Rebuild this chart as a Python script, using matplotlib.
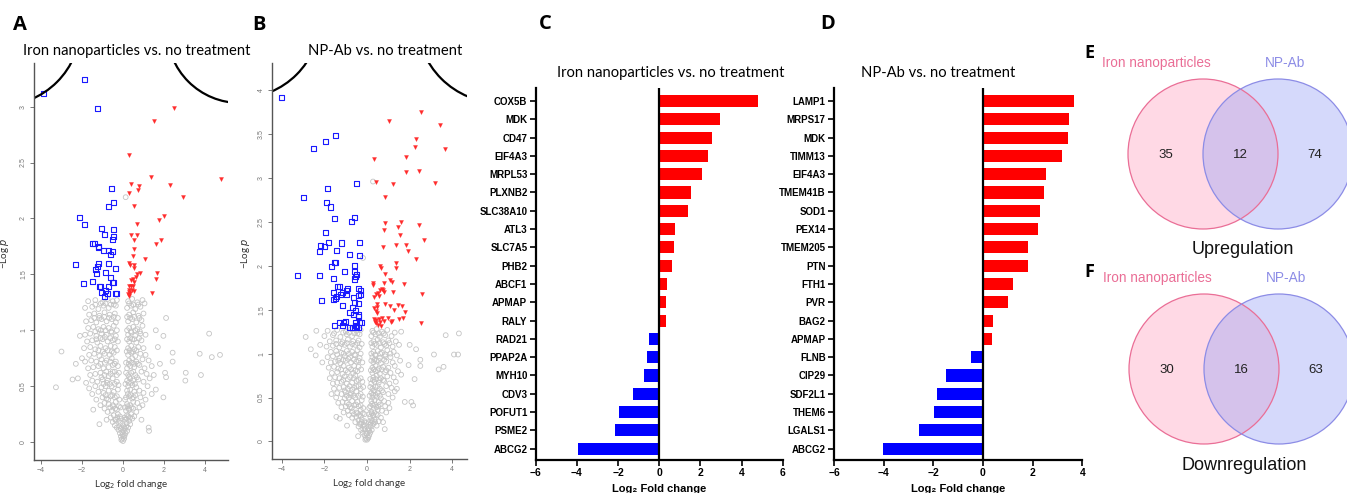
import numpy as np
import matplotlib
matplotlib.use('Agg')
import matplotlib.pyplot as plt
from matplotlib.patches import Arc, Circle
from matplotlib.transforms import IdentityTransform

W, H = 1347, 493
SANS = ['Liberation Sans', 'DejaVu Sans']
CALI = ['Lato', 'DejaVu Sans']
plt.rcParams['font.family'] = SANS

# ---------------- volcano A: iron nanoparticles vs no treatment
blue_a = [(-3.89, 3.12), (-1.89, 3.24), (-1.25, 2.98), (-0.57, 2.27), (-0.47, 2.14), (-0.73, 2.11),
          (-2.12, 2.01), (-1.89, 1.95), (-1.04, 1.91), (-0.47, 1.90), (-0.88, 1.86), (-0.44, 1.84),
          (-0.50, 1.81), (-1.47, 1.78), (-1.37, 1.78), (-1.19, 1.75), (-1.19, 1.74), (-0.93, 1.71),
          (-0.70, 1.71), (-0.50, 1.70), (-0.60, 1.68), (-2.30, 1.59), (-1.19, 1.60), (-0.70, 1.60),
          (-1.24, 1.57), (-1.34, 1.54), (-0.39, 1.55), (-1.30, 1.51), (-0.86, 1.52), (-0.60, 1.47),
          (-1.51, 1.44), (-1.95, 1.42), (-0.50, 1.43), (-0.47, 1.43), (-1.12, 1.39), (-1.16, 1.39),
          (-0.73, 1.39), (-0.86, 1.36), (-1.03, 1.34), (-0.76, 1.33), (-0.39, 1.33), (-0.34, 1.33),
          (-0.90, 1.30)]
red_a = [(2.51, 2.99), (1.51, 2.87), (0.28, 2.57), (1.37, 2.37), (4.76, 2.35), (0.37, 2.31),
         (0.77, 2.29), (2.30, 2.30), (0.28, 2.23), (0.72, 2.25), (2.92, 2.19), (0.55, 2.11),
         (2.02, 2.02), (1.74, 1.99), (0.68, 1.95), (0.39, 1.85), (0.68, 1.85), (1.86, 1.81),
         (0.55, 1.81), (1.61, 1.77), (0.55, 1.73), (0.47, 1.66), (1.09, 1.64), (0.28, 1.60),
         (0.34, 1.58), (0.54, 1.58), (0.54, 1.56), (1.66, 1.51), (0.85, 1.51), (0.67, 1.50),
         (0.64, 1.48), (1.61, 1.46), (0.47, 1.46), (0.39, 1.45), (0.52, 1.43), (0.29, 1.40),
         (0.39, 1.40), (0.49, 1.40), (0.28, 1.36), (0.42, 1.36), (0.55, 1.35), (0.31, 1.34),
         (1.40, 1.33), (0.23, 1.32), (0.28, 1.31), (0.34, 1.33)]
gray_a = [(0.0, 0.01), (-0.05, 0.03), (0.05, 0.03), (-0.1, 0.05), (0.08, 0.06), (-0.15, 0.08), (0.12, 0.08),
          (-0.02, 0.07), (0.2, 0.1), (-0.22, 0.11), (0.03, 0.1), (-0.3, 0.13), (0.25, 0.13), (-0.1, 0.12),
          (0.15, 0.14), (-0.4, 0.15), (0.35, 0.16), (0.0, 0.15),
          (-0.5, 0.18), (-0.35, 0.2), (-0.2, 0.19), (0.1, 0.2), (0.3, 0.19), (0.45, 0.21), (-0.6, 0.22),
          (-0.45, 0.24), (-0.25, 0.25), (0.2, 0.24), (0.4, 0.25), (0.55, 0.23), (-0.75, 0.27), (-0.55, 0.28),
          (-0.3, 0.29), (0.15, 0.28), (0.3, 0.29), (0.5, 0.3), (0.65, 0.27), (-0.9, 0.3), (0.8, 0.31),
          (-1.15, 0.16), (-1.45, 0.29), (1.25, 0.13), (1.27, 0.1), (0.9, 0.2), (-0.8, 0.2),
          (-1.1, 0.33), (-0.9, 0.35), (-0.7, 0.34), (-0.5, 0.33), (-0.35, 0.36), (0.2, 0.34), (0.35, 0.33),
          (0.5, 0.36), (0.7, 0.35), (0.95, 0.33), (-1.3, 0.38), (-1.0, 0.4), (-0.8, 0.39), (-0.6, 0.41),
          (-0.4, 0.4), (0.15, 0.4), (0.3, 0.41), (0.45, 0.39), (0.6, 0.42), (0.85, 0.4), (1.1, 0.38),
          (-1.5, 0.43), (-1.2, 0.45), (-0.95, 0.44), (-0.7, 0.46), (-0.45, 0.45), (-0.25, 0.47), (0.2, 0.46),
          (0.35, 0.47), (0.55, 0.45), (0.8, 0.46), (1.0, 0.44), (1.4, 0.43), (-1.65, 0.48), (-1.35, 0.5),
          (-1.05, 0.49), (-0.85, 0.5), (-0.55, 0.5), (0.25, 0.5), (0.45, 0.51), (0.65, 0.49), (1.2, 0.5),
          (1.6, 0.47), (1.97, 0.4),
          (-1.8, 0.53), (-1.5, 0.55), (-1.25, 0.54), (-1.0, 0.56), (-0.75, 0.55), (-0.5, 0.57), (-0.3, 0.54),
          (0.2, 0.55), (0.35, 0.57), (0.5, 0.55), (0.75, 0.56), (1.0, 0.54), (1.3, 0.57), (-1.6, 0.6),
          (-1.35, 0.61), (-1.1, 0.62), (-0.9, 0.6), (-0.6, 0.61), (-0.4, 0.63), (0.25, 0.6), (0.4, 0.62),
          (0.6, 0.6), (0.9, 0.63), (1.15, 0.61), (1.5, 0.6), (-1.7, 0.66), (-1.45, 0.67), (-1.2, 0.68),
          (-0.95, 0.66), (-0.7, 0.67), (-0.5, 0.69), (0.2, 0.66), (0.35, 0.68), (0.55, 0.67), (0.8, 0.69),
          (1.05, 0.66), (1.4, 0.68), (-1.85, 0.72), (-1.55, 0.73), (-1.3, 0.72), (-1.05, 0.74), (-0.8, 0.73),
          (-0.55, 0.75), (-0.35, 0.72), (0.3, 0.73), (0.45, 0.75), (0.65, 0.72), (0.95, 0.74), (1.25, 0.73),
          (-1.65, 0.78), (-1.4, 0.79), (-1.15, 0.77), (-0.9, 0.79), (-0.65, 0.78), (-0.45, 0.8), (0.25, 0.78),
          (0.4, 0.8), (0.6, 0.77), (0.85, 0.79), (1.1, 0.78),
          (-1.9, 0.84), (-1.6, 0.85), (-1.35, 0.83), (-1.1, 0.86), (-0.85, 0.84), (-0.6, 0.86), (-0.4, 0.85),
          (0.25, 0.84), (0.4, 0.86), (0.55, 0.83), (0.75, 0.85), (1.0, 0.84), (-1.75, 0.9), (-1.5, 0.91),
          (-1.25, 0.89), (-1.0, 0.92), (-0.75, 0.9), (-0.5, 0.91), (0.3, 0.9), (0.45, 0.92), (0.65, 0.89),
          (0.9, 0.91), (-1.85, 0.96), (-1.6, 0.97), (-1.3, 0.95), (-1.05, 0.97), (-0.8, 0.96), (-0.55, 0.98),
          (-0.35, 0.95), (0.25, 0.96), (0.4, 0.98), (0.6, 0.95), (0.85, 0.97), (1.1, 0.96), (-1.7, 1.02),
          (-1.45, 1.03), (-1.2, 1.01), (-0.95, 1.03), (-0.7, 1.02), (-0.45, 1.04), (0.3, 1.02), (0.5, 1.03),
          (0.7, 1.01), (0.95, 1.04),
          (-1.8, 1.08), (-1.55, 1.09), (-1.3, 1.07), (-1.05, 1.1), (-0.8, 1.08), (-0.55, 1.1), (-0.35, 1.07),
          (0.25, 1.08), (0.45, 1.1), (0.65, 1.07), (0.9, 1.09), (-1.65, 1.14), (-1.4, 1.15), (-1.15, 1.13),
          (-0.9, 1.16), (-0.65, 1.14), (-0.4, 1.15), (0.3, 1.14), (0.5, 1.16), (0.75, 1.13), (1.0, 1.15),
          (-1.85, 1.2), (-1.5, 1.21), (-1.2, 1.19), (-0.95, 1.22), (-0.7, 1.2), (-0.45, 1.23), (0.2, 1.2),
          (0.4, 1.22), (0.6, 1.19), (0.85, 1.21), (-1.7, 1.26), (-1.35, 1.27), (-1.0, 1.25), (-0.75, 1.28),
          (-0.5, 1.26), (-0.3, 1.27), (0.25, 1.26), (0.45, 1.28), (0.7, 1.25), (0.95, 1.27), (0.13, 2.19),
          (-3.0, 0.81), (-3.27, 0.49), (-2.46, 0.56), (-2.2, 0.57), (2.1, 1.11), (1.97, 0.95), (4.2, 0.97),
          (3.74, 0.79), (4.33, 0.76), (4.73, 0.78), (2.42, 0.8), (2.42, 0.72), (3.06, 0.62), (3.8, 0.6),
          (3.04, 0.55), (2.1, 0.58), (2.05, 0.62), (1.8, 0.7), (1.7, 0.85), (1.6, 1.0), (-2.0, 0.75),
          (-2.1, 0.95), (-2.3, 0.7)]
# dense part of the grey cloud (two arms of the V)
gray_a_core = [(-0.08, 0.02), (0.04, 0.05), (-0.04, 0.09), (0.1, 0.12), (-0.18, 0.14), (0.06, 0.13), (-0.12, 0.17),
               (0.18, 0.17), (-0.38, 0.2), (-0.28, 0.22), (-0.15, 0.23), (-0.08, 0.21), (0.08, 0.22), (0.18, 0.21),
               (0.26, 0.23), (0.34, 0.22), (-0.62, 0.31), (-0.48, 0.32), (-0.38, 0.3), (-0.2, 0.32), (-0.12, 0.31),
               (0.1, 0.31), (0.22, 0.32), (0.28, 0.3), (0.42, 0.31), (-0.85, 0.42), (-0.72, 0.38), (-0.52, 0.42),
               (-0.3, 0.41), (-0.18, 0.38), (0.1, 0.38), (0.24, 0.43), (0.38, 0.42), (0.52, 0.4), (-0.95, 0.52),
               (-0.78, 0.53), (-0.65, 0.52), (-0.4, 0.52), (-0.22, 0.51), (0.12, 0.52), (0.28, 0.53), (0.4, 0.53),
               (0.58, 0.52), (-1.05, 0.58), (-0.82, 0.63), (-0.7, 0.59), (-0.5, 0.63), (-0.3, 0.6), (-0.2, 0.62),
               (0.15, 0.62), (0.3, 0.58), (0.5, 0.63), (0.68, 0.58), (-1.1, 0.7), (-0.88, 0.71), (-0.62, 0.72),
               (-0.4, 0.7), (-0.25, 0.68), (0.15, 0.71), (0.28, 0.7), (0.42, 0.71), (0.55, 0.7), (0.72, 0.7),
               (-1.2, 0.82), (-0.98, 0.81), (-0.75, 0.82), (-0.55, 0.81), (-0.3, 0.82), (0.18, 0.81), (0.32, 0.82),
               (0.48, 0.81), (0.65, 0.82), (-1.3, 0.92), (-1.1, 0.93), (-0.88, 0.94), (-0.62, 0.93), (-0.4, 0.92),
               (-0.25, 0.9), (0.2, 0.92), (0.35, 0.93), (0.55, 0.92), (0.78, 0.93), (-1.35, 0.99), (-1.08, 1.0),
               (-0.85, 1.0), (-0.58, 0.99), (-0.3, 1.0), (0.2, 1.0), (0.38, 0.99), (0.6, 1.0), (0.82, 0.99),
               (-1.4, 1.11), (-1.15, 1.11), (-0.92, 1.12), (-0.68, 1.11), (-0.45, 1.12), (-0.25, 1.11), (0.2, 1.12),
               (0.35, 1.11), (0.55, 1.12), (0.8, 1.11), (-1.35, 1.23), (-1.08, 1.24), (-0.85, 1.24), (-0.6, 1.23),
               (-0.35, 1.22), (0.3, 1.24), (0.5, 1.23), (0.75, 1.23), (1.05, 1.24)]

# ---------------- volcano B: NP-Ab vs no treatment
blue_b = [(-4.0, 3.92), (-1.5, 3.48), (-1.95, 3.42), (-2.53, 3.34), (-0.48, 2.94), (-1.86, 2.88),
          (-2.97, 2.78), (-1.89, 2.72), (-1.7, 2.67), (-1.55, 2.54), (-0.59, 2.55), (-0.73, 2.51),
          (-1.95, 2.38), (-1.83, 2.27), (-2.19, 2.23), (-1.22, 2.26), (-0.36, 2.27), (-1.98, 2.22),
          (-2.25, 2.16), (-1.42, 2.18), (-0.84, 2.13), (-0.36, 2.12), (-1.55, 2.04), (-1.5, 2.04),
          (-1.66, 1.99), (-0.58, 2.0), (-1.05, 1.94), (-0.58, 1.94), (-0.48, 1.9), (-0.55, 1.88),
          (-0.59, 1.85), (-3.28, 1.89), (-2.25, 1.89), (-1.58, 1.86), (-1.38, 1.77), (-1.28, 1.77),
          (-0.92, 1.74), (-0.95, 1.72), (-1.56, 1.7), (-1.13, 1.7), (-0.42, 1.74), (-0.31, 1.72),
          (-1.42, 1.65), (-1.23, 1.67), (-1.47, 1.63), (-0.98, 1.67), (-0.39, 1.66), (-0.3, 1.67),
          (-0.64, 1.64), (-2.16, 1.6), (-1.59, 1.62), (-0.61, 1.58), (-0.39, 1.57), (-1.13, 1.55),
          (-0.67, 1.52), (-0.55, 1.49), (-0.8, 1.47), (-0.64, 1.45), (-0.42, 1.44), (-0.38, 1.42),
          (-1.0, 1.37), (-1.28, 1.36), (-1.09, 1.35), (-0.36, 1.36), (-0.28, 1.36), (-0.53, 1.35),
          (-1.53, 1.32), (-1.17, 1.32), (-0.84, 1.3), (-0.66, 1.3), (-0.56, 1.32), (-0.48, 1.31),
          (-0.38, 1.3)]
red_b = [(2.55, 3.75), (1.05, 3.65), (3.44, 3.6), (2.3, 3.44), (2.23, 3.35), (3.66, 3.33), (1.81, 3.24),
         (0.34, 3.22), (1.84, 3.07), (2.44, 3.08), (0.44, 2.96), (1.23, 2.93), (3.19, 2.94), (0.83, 2.78),
         (0.83, 2.49), (1.58, 2.5), (1.44, 2.44), (2.42, 2.46), (0.8, 2.41), (1.53, 2.35), (2.67, 2.29),
         (1.34, 2.24), (1.81, 2.24), (0.73, 2.22), (1.91, 2.17), (2.3, 2.08), (1.38, 2.03), (0.63, 2.0),
         (0.64, 1.97), (1.34, 1.97), (0.83, 1.91), (1.06, 1.84), (1.17, 1.82), (0.27, 1.8), (0.3, 1.78),
         (0.81, 1.81), (1.72, 1.79), (0.69, 1.74), (0.61, 1.72), (0.73, 1.72), (0.81, 1.7), (0.42, 1.68),
         (0.52, 1.69), (1.23, 1.7), (2.58, 1.68), (0.55, 1.66), (0.34, 1.65), (0.45, 1.57), (0.86, 1.57),
         (0.34, 1.52), (0.45, 1.53), (1.06, 1.54), (1.45, 1.55), (1.63, 1.54), (1.25, 1.5), (0.44, 1.49),
         (0.48, 1.46), (1.8, 1.47), (0.72, 1.41), (0.98, 1.41), (0.31, 1.39), (0.41, 1.38), (0.55, 1.39),
         (1.69, 1.41), (1.48, 1.4), (0.78, 1.37), (1.13, 1.36), (1.19, 1.37), (0.44, 1.35), (0.5, 1.33),
         (0.61, 1.36), (2.55, 1.35), (0.38, 1.36), (0.64, 1.32)]
gray_b = [(0.0, 0.02), (-0.06, 0.04), (0.06, 0.04), (-0.12, 0.07), (0.1, 0.07), (-0.2, 0.1), (0.15, 0.1),
          (0.0, 0.09), (-0.28, 0.13), (0.22, 0.13), (-0.1, 0.14), (0.08, 0.15), (-0.42, 0.06), (0.83, 0.14),
          (-0.4, 0.17), (-0.3, 0.2), (-0.15, 0.19), (0.15, 0.19), (0.3, 0.2), (0.45, 0.18), (-0.55, 0.22),
          (-0.4, 0.24), (-0.25, 0.25), (0.2, 0.24), (0.35, 0.25), (0.55, 0.23), (-0.7, 0.27), (-0.5, 0.28),
          (-0.3, 0.29), (0.15, 0.28), (0.3, 0.29), (0.5, 0.3), (0.65, 0.27), (-0.94, 0.18), (-1.44, 0.28),
          (-1.28, 0.26), (-0.85, 0.3), (0.75, 0.22),
          (-1.1, 0.33), (-0.9, 0.35), (-0.7, 0.34), (-0.5, 0.33), (-0.3, 0.36), (0.2, 0.34), (0.35, 0.33),
          (0.5, 0.36), (0.7, 0.35), (0.9, 0.33), (-1.2, 0.39), (-1.0, 0.4), (-0.8, 0.39), (-0.6, 0.41),
          (-0.4, 0.4), (0.15, 0.4), (0.3, 0.41), (0.45, 0.39), (0.6, 0.42), (0.85, 0.4), (1.05, 0.38),
          (-1.35, 0.44), (-1.15, 0.45), (-0.95, 0.44), (-0.7, 0.46), (-0.45, 0.45), (-0.25, 0.47), (0.2, 0.46),
          (0.35, 0.47), (0.55, 0.45), (0.8, 0.46), (1.0, 0.44), (1.77, 0.45), (2.08, 0.45), (2.16, 0.41),
          (-1.45, 0.5), (-1.05, 0.49), (-0.85, 0.5), (-0.55, 0.5), (0.25, 0.5), (0.45, 0.51), (0.65, 0.49),
          (1.2, 0.5),
          (-1.67, 0.54), (-1.4, 0.55), (-1.2, 0.54), (-1.0, 0.56), (-0.75, 0.55), (-0.5, 0.57), (-0.3, 0.54),
          (0.2, 0.55), (0.35, 0.57), (0.5, 0.55), (0.75, 0.56), (1.0, 0.54), (1.3, 0.57), (-1.55, 0.6),
          (-1.3, 0.61), (-1.1, 0.62), (-0.9, 0.6), (-0.6, 0.61), (-0.4, 0.63), (0.25, 0.6), (0.4, 0.62),
          (0.6, 0.6), (0.9, 0.63), (1.15, 0.61), (1.4, 0.6), (-1.6, 0.66), (-1.4, 0.67), (-1.2, 0.68),
          (-0.95, 0.66), (-0.7, 0.67), (-0.5, 0.69), (0.2, 0.66), (0.35, 0.68), (0.55, 0.67), (0.8, 0.69),
          (1.05, 0.66), (1.35, 0.68), (-1.75, 0.72), (-1.5, 0.73), (-1.3, 0.72), (-1.05, 0.74), (-0.8, 0.73),
          (-0.55, 0.75), (-0.3, 0.72), (0.3, 0.73), (0.45, 0.75), (0.65, 0.72), (0.95, 0.74), (1.25, 0.73),
          (2.23, 0.71), (1.6, 0.76), (-1.65, 0.78), (-1.4, 0.79), (-1.15, 0.77), (-0.9, 0.79), (-0.65, 0.78),
          (-0.45, 0.8), (0.25, 0.78), (0.4, 0.8), (0.6, 0.77), (0.85, 0.79), (1.1, 0.78), (1.45, 0.8),
          (-1.8, 0.84), (-1.55, 0.85), (-1.35, 0.83), (-1.1, 0.86), (-0.85, 0.84), (-0.6, 0.86), (-0.4, 0.85),
          (0.25, 0.84), (0.4, 0.86), (0.55, 0.83), (0.75, 0.85), (1.0, 0.84), (1.3, 0.86), (-1.7, 0.9),
          (-1.5, 0.91), (-1.25, 0.89), (-1.0, 0.92), (-0.75, 0.9), (-0.5, 0.91), (0.3, 0.9), (0.45, 0.92),
          (0.65, 0.89), (0.9, 0.91), (1.2, 0.9), (1.55, 0.92), (-1.85, 0.96), (-1.6, 0.97), (-1.3, 0.95),
          (-1.05, 0.97), (-0.8, 0.96), (-0.55, 0.98), (-0.35, 0.95), (0.25, 0.96), (0.4, 0.98), (0.6, 0.95),
          (0.85, 0.97), (1.1, 0.96), (1.4, 0.98), (-1.7, 1.02), (-1.45, 1.03), (-1.2, 1.01), (-0.95, 1.03),
          (-0.7, 1.02), (-0.45, 1.04), (0.3, 1.02), (0.5, 1.03), (0.7, 1.01), (0.95, 1.04), (1.25, 1.02),
          (-1.9, 1.08), (-1.6, 1.09), (-1.3, 1.07), (-1.05, 1.1), (-0.8, 1.08), (-0.55, 1.1), (-0.35, 1.07),
          (0.25, 1.08), (0.45, 1.1), (0.65, 1.07), (0.9, 1.09), (1.2, 1.08), (1.5, 1.1), (-1.75, 1.14),
          (-1.45, 1.15), (-1.15, 1.13), (-0.9, 1.16), (-0.65, 1.14), (-0.4, 1.15), (0.3, 1.14), (0.5, 1.16),
          (0.75, 1.13), (1.0, 1.15), (1.35, 1.14), (-2.0, 1.2), (-1.6, 1.21), (-1.25, 1.19), (-0.95, 1.22),
          (-0.7, 1.2), (-0.45, 1.23), (0.2, 1.2), (0.4, 1.22), (0.6, 1.19), (0.85, 1.21), (1.15, 1.2),
          (-1.85, 1.26), (-1.4, 1.27), (-1.0, 1.25), (-0.75, 1.28), (-0.5, 1.26), (-0.3, 1.27), (0.25, 1.26),
          (0.45, 1.28), (0.7, 1.25), (0.95, 1.27), (1.6, 1.25),
          (-2.88, 1.19), (-2.64, 1.05), (-2.41, 0.98), (-2.38, 1.26), (-2.2, 1.1), (3.69, 1.21), (4.31, 1.23),
          (3.14, 0.99), (4.08, 0.99), (4.27, 0.99), (3.36, 0.82), (3.59, 0.85), (2.5, 0.93), (2.5, 0.86),
          (2.0, 1.1), (1.95, 0.87), (0.28, 2.96), (-0.19, 2.09), (2.3, 1.05), (-2.1, 0.9)]
gray_b_core = [(-0.08, 0.02), (0.04, 0.05), (-0.04, 0.09), (0.1, 0.12), (-0.18, 0.14), (0.06, 0.13), (-0.12, 0.17),
               (0.18, 0.17), (-0.35, 0.2), (-0.25, 0.22), (-0.12, 0.23), (-0.06, 0.21), (0.08, 0.22), (0.18, 0.21),
               (0.26, 0.23), (0.38, 0.22), (-0.62, 0.31), (-0.45, 0.32), (-0.38, 0.3), (-0.2, 0.32), (-0.12, 0.31),
               (0.1, 0.31), (0.22, 0.32), (0.28, 0.3), (0.42, 0.31), (-0.85, 0.42), (-0.72, 0.38), (-0.52, 0.42),
               (-0.3, 0.41), (-0.18, 0.38), (0.1, 0.38), (0.24, 0.43), (0.38, 0.42), (0.52, 0.4), (-0.95, 0.52),
               (-0.78, 0.53), (-0.65, 0.52), (-0.4, 0.52), (-0.2, 0.51), (0.12, 0.52), (0.28, 0.53), (0.4, 0.53),
               (0.6, 0.52), (-1.05, 0.58), (-0.82, 0.63), (-0.7, 0.59), (-0.5, 0.63), (-0.3, 0.6), (-0.18, 0.62),
               (0.15, 0.62), (0.3, 0.58), (0.5, 0.63), (0.7, 0.58), (-1.12, 0.7), (-0.9, 0.71), (-0.62, 0.72),
               (-0.4, 0.7), (-0.22, 0.68), (0.15, 0.71), (0.28, 0.7), (0.42, 0.71), (0.58, 0.7), (0.75, 0.7),
               (-1.22, 0.82), (-1.0, 0.81), (-0.75, 0.82), (-0.55, 0.81), (-0.28, 0.82), (0.18, 0.81), (0.32, 0.82),
               (0.5, 0.81), (0.68, 0.82), (0.9, 0.81), (-1.35, 0.92), (-1.12, 0.93), (-0.88, 0.94), (-0.62, 0.93),
               (-0.4, 0.92), (-0.22, 0.9), (0.2, 0.92), (0.35, 0.93), (0.55, 0.92), (0.8, 0.93), (-1.4, 0.99),
               (-1.1, 1.0), (-0.85, 1.0), (-0.58, 0.99), (-0.3, 1.0), (0.2, 1.0), (0.38, 0.99), (0.62, 1.0),
               (0.85, 0.99), (1.1, 1.0), (-1.45, 1.11), (-1.2, 1.11), (-0.95, 1.12), (-0.7, 1.11), (-0.45, 1.12),
               (-0.25, 1.11), (0.2, 1.12), (0.35, 1.11), (0.58, 1.12), (0.82, 1.11), (1.05, 1.12), (-1.55, 1.23),
               (-1.12, 1.24), (-0.85, 1.24), (-0.6, 1.23), (-0.35, 1.22), (0.3, 1.24), (0.55, 1.23), (0.78, 1.23),
               (1.3, 1.24)]

# ---------------- bar charts C and D
genes_c = ['COX5B', 'MDK', 'CD47', 'EIF4A3', 'MRPL53', 'PLXNB2', 'SLC38A10', 'ATL3', 'SLC7A5', 'PHB2',
           'ABCF1', 'APMAP', 'RALY', 'RAD21', 'PPAP2A', 'MYH10', 'CDV3', 'POFUT1', 'PSME2', 'ABCG2']
fc_c = [4.82, 2.96, 2.56, 2.35, 2.07, 1.55, 1.38, 0.78, 0.74, 0.6,
        0.37, 0.31, 0.31, -0.5, -0.6, -0.73, -1.29, -1.93, -2.14, -3.95]
genes_d = ['LAMP1', 'MRPS17', 'MDK', 'TIMM13', 'EIF4A3', 'TMEM41B', 'SOD1', 'PEX14', 'TMEM205', 'PTN',
           'FTH1', 'PVR', 'BAG2', 'APMAP', 'FLNB', 'CIP29', 'SDF2L1', 'THEM6', 'LGALS1', 'ABCG2']
fc_d = [3.66, 3.46, 3.44, 3.19, 2.54, 2.46, 2.3, 2.23, 1.83, 1.8,
        1.19, 1.02, 0.42, 0.35, -0.48, -1.5, -1.87, -1.99, -2.56, -4.01]

# ---------------- venn counts (only iron, shared, only NP-Ab)
up_counts = [35, 12, 74]
down_counts = [30, 16, 63]

fig = plt.figure(figsize=(W / 100, H / 100), dpi=100)


def px_axes(l, t, r, b):
    return fig.add_axes([l / W, (H - b) / H, (r - l) / W, (b - t) / H])


def volcano(ax, gray, blue, red, xlim, ylim, yticks, arcs, title, title_x, ylab_x):
    g = np.array(gray)
    bl = np.array(blue)
    rd = np.array(red)
    ax.scatter(g[:, 0], g[:, 1], s=12, facecolors='none', edgecolors='#c4c4c4', linewidths=0.6)
    ax.scatter(bl[:, 0], bl[:, 1], marker='s', s=13, facecolors='none', edgecolors='#1a1aff', linewidths=0.8)
    ax.scatter(rd[:, 0], rd[:, 1], marker='v', s=8, color='#ff2a2a', linewidths=0.3)
    for cx, cy, r, t1, t2 in arcs:
        ax.add_patch(Arc((cx, H - cy), 2 * r, 2 * r, theta1=t1, theta2=t2,
                         transform=IdentityTransform(), color='black', lw=1.6))
    ax.set_xlim(*xlim)
    ax.set_ylim(*ylim)
    ax.set_xticks([-4, -2, 0, 2, 4])
    ax.set_yticks(yticks)
    ax.set_yticklabels([f'{v:g}' for v in yticks], rotation=90, va='center')
    ax.tick_params(labelsize=5, colors='#777777', length=3, width=0.7, pad=2)
    for s in ['top', 'right']:
        ax.spines[s].set_visible(False)
    for s in ['left', 'bottom']:
        ax.spines[s].set_color('#555555')
        ax.spines[s].set_linewidth(1.0)
    ax.set_xlabel('Log$_2$ fold change', fontsize=7, family=CALI, color='#333333', labelpad=3)
    ax.set_ylabel('\u2212Log $p$', fontsize=7, family=CALI, color='#333333')
    ax.yaxis.set_label_coords(ylab_x, 0.52)
    ax.set_title(title, fontsize=10.6, family=CALI, pad=6, x=title_x)


ax_a = px_axes(34, 63, 228, 460)
volcano(ax_a, gray_a + gray_a_core, blue_a, red_a, (-4.34, 5.12), (-0.16, 3.39), [0, 0.5, 1, 1.5, 2, 2.5, 3],
        [(0, 25, 80.6, 270, 360), (240, 30, 73, 180, 270)],
        'Iron nanoparticles vs. no treatment', 0.53, -0.12)
ax_b = px_axes(272, 63, 467, 459)
volcano(ax_b, gray_b + gray_b_core, blue_b, red_b, (-4.46, 4.69), (-0.2, 4.31),
        [0, 0.5, 1, 1.5, 2, 2.5, 3, 3.5, 4],
        [(240, 18, 80, 270, 360), (500, 20, 83, 180, 270)],
        'NP-Ab vs. no treatment', 0.58, -0.10)


def bars(ax, genes, vals, xlim, xticks, title, title_x):
    y = np.arange(len(genes))
    cols = ['#ff0000' if v > 0 else '#0000ff' for v in vals]
    ax.barh(y, vals, height=0.66, color=cols)
    ax.axvline(0, color='black', lw=1.6)
    ax.set_yticks(y)
    ax.set_yticklabels(genes, fontweight='bold', fontsize=7)
    ax.set_ylim(19.62, -0.71)
    ax.set_xlim(*xlim)
    ax.set_xticks(xticks)
    ax.set_xticklabels([f'{v}'.replace('-', '\u2212') for v in xticks], fontweight='bold', fontsize=7.5)
    ax.tick_params(length=4, width=1.2, pad=2)
    for s in ['top', 'right']:
        ax.spines[s].set_visible(False)
    for s in ['left', 'bottom']:
        ax.spines[s].set_linewidth(1.6)
    ax.set_xlabel('Log\u2082 Fold change', fontweight='bold', fontsize=8, labelpad=4)
    ax.set_title(title, fontsize=10.6, family=CALI, pad=8, x=title_x)


ax_c = px_axes(535.7, 88, 782.7, 460)
bars(ax_c, genes_c, fc_c, (-6, 6), [-6, -4, -2, 0, 2, 4, 6], 'Iron nanoparticles vs. no treatment', 0.545)
ax_d = px_axes(834, 88, 1082.3, 460)
bars(ax_d, genes_d, fc_d, (-6, 4), [-6, -4, -2, 0, 2, 4], 'NP-Ab vs. no treatment', 0.42)

# ---------------- venn diagrams E and F
ax_v = fig.add_axes([1080 / W, 0, (W - 1080) / W, 1])
ax_v.set_xlim(1080, W)
ax_v.set_ylim(H, 0)
ax_v.axis('off')


def venn(ax, cx, cy, counts, caption):
    r = 75
    left_c = (cx, cy)
    right_c = (cx + 75, cy)
    ax.add_patch(Circle(left_c, r, facecolor='#ffa0be', alpha=0.4, edgecolor='none'))
    ax.add_patch(Circle(right_c, r, facecolor='#96a0f5', alpha=0.4, edgecolor='none'))
    ax.add_patch(Circle(left_c, r, facecolor='none', edgecolor='#ea6e96', lw=0.9))
    ax.add_patch(Circle(right_c, r, facecolor='none', edgecolor='#8c8ce6', lw=0.9))
    ax.text(cx - 37, cy + 1, str(counts[0]), ha='center', va='center', fontsize=9.5, color='#222222')
    ax.text(cx + 37.5, cy + 1, str(counts[1]), ha='center', va='center', fontsize=9.5, color='#222222')
    ax.text(cx + 112, cy + 1, str(counts[2]), ha='center', va='center', fontsize=9.5, color='#222222')
    ax.text(cx - 47, cy - 91, 'Iron nanoparticles', ha='center', va='center', fontsize=9.8, color='#ea6e96')
    ax.text(cx + 82, cy - 91, 'NP-Ab', ha='center', va='center', fontsize=9.8, color='#8c8ce6')
    ax.text(cx + 40, cy + 96, caption, ha='center', va='center', fontsize=13, color='#111111')


venn(ax_v, 1203, 154, up_counts, 'Upregulation')
venn(ax_v, 1204, 369, down_counts, 'Downregulation')

# panel letters
for lab, x, y in [('A', 20, 25), ('B', 259, 25), ('C', 545, 24), ('D', 828, 24), ('E', 1089, 53), ('F', 1089, 272)]:
    fig.text(x / W, 1 - y / H, lab, ha='center', va='center', fontsize=14.5 if lab in 'ABCD' else 13,
             fontweight='bold', family=['Open Sans', 'DejaVu Sans'])

fig.savefig('out.png', dpi=100)
